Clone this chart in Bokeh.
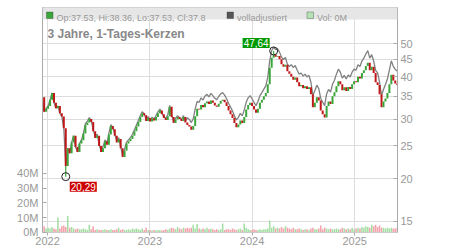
import numpy as np
import pandas as pd
from bokeh.plotting import figure
from bokeh.models import (Range1d, LinearAxis, LinearScale, FixedTicker, ColumnDataSource, Label,
                          BoxAnnotation, PrintfTickFormatter, DatetimeTickFormatter)
from bokeh.embed import file_html
from bokeh.resources import INLINE

# ---------------- data (weekly) ----------------
week_start = "2021-12-13"
first_open = 34.0
close = [
    34.8, 31.5, 32.2, 32.8, 34.2, 35.8, 33.5, 32.3, 32.8, 31.2,
    30.5, 28.2, 21.8, 24.6, 23.8, 25.6, 26.8, 24.8, 24.0, 25.4,
    26.0, 27.2, 28.8, 29.3, 30.0, 29.4, 27.6, 26.4, 26.8, 25.0,
    24.0, 24.6, 25.8, 25.2, 27.0, 28.6, 28.0, 26.8, 25.6, 26.2,
    24.6, 23.2, 24.2, 25.4, 25.8, 26.2, 26.8, 27.6, 28.5, 29.4,
    30.4, 31.2, 30.8, 29.6, 30.2, 29.5, 30.1, 29.7, 30.4, 31.2,
    31.8, 31.0, 30.2, 29.8, 30.6, 32.6, 30.4, 29.2, 29.9, 30.4,
    30.0, 29.6, 30.4, 29.3, 28.8, 28.5, 27.9, 28.6, 30.6, 32.2,
    32.0, 33.0, 32.5, 33.4, 33.8, 33.2, 34.0, 33.5, 32.9, 32.6,
    33.3, 33.9, 34.2, 33.6, 32.8, 31.8, 31.0, 30.2, 29.2, 28.4,
    28.9, 29.7, 29.2, 30.4, 32.0, 33.0, 33.5, 32.8, 32.0, 31.3,
    32.2, 33.5, 34.2, 35.0, 35.8, 38.0, 42.5, 45.5, 46.5, 45.8,
    46.0, 45.0, 43.5, 42.8, 43.4, 41.5, 40.8, 40.0, 39.2, 39.8,
    38.5, 37.5, 37.8, 37.0, 37.5, 36.8, 37.2, 35.5, 32.5, 33.5,
    34.8, 34.0, 31.8, 31.0, 30.3, 32.8, 33.8, 33.2, 35.0, 36.0,
    37.5, 38.8, 38.0, 36.5, 37.2, 36.3, 37.3, 36.8, 38.0, 38.8,
    38.5, 40.0, 39.5, 41.0, 41.8, 43.0, 44.0, 41.8, 42.8, 41.0,
    38.5, 37.8, 35.5, 32.5, 33.8, 34.5, 35.8, 38.0, 40.5, 39.0,
    38.2, 37.8,
]
volume_m = [
    7, 4, 2.5, 3, 2.5, 3.5, 2.5, 2, 10, 2.5,
    4, 4.5, 3.5, 11, 3, 3.5, 2.5, 2, 2.5, 2,
    2, 2.5, 2, 1.5, 5, 2, 4, 1.5, 2, 1.5,
    1.5, 1.5, 2, 1.5, 1.5, 2, 1.5, 1.5, 2, 3,
    1.5, 2, 1.5, 1.5, 2, 1.5, 2.5, 2, 2.5, 2,
    1.5, 2.5, 1.5, 3, 1.5, 1.5, 1.2, 1.5, 1.2, 1.5,
    1.5, 1.2, 1.5, 2, 1.5, 2.5, 3, 2.5, 2, 3.5,
    2.5, 2, 3, 2.5, 3, 2.5, 3, 5, 2.5, 5.5,
    2.5, 2, 2.5, 2, 3, 2, 2.5, 2, 1.5, 2,
    1.5, 2, 6, 1.5, 2, 2, 1.5, 2.5, 2, 1.5,
    2, 2.5, 1.5, 6, 3, 2, 1.5, 1.5, 2, 1.5,
    1.5, 2, 1.5, 2, 2, 2.5, 8, 3, 4, 2.5,
    3, 2.5, 3.5, 2.5, 4, 3, 2.5, 2, 3, 2,
    2, 2.5, 2, 1.5, 2, 2, 1.5, 2.5, 3, 2,
    2, 2.5, 4.5, 2, 3, 2.5, 2, 2.5, 2, 2,
    2.5, 2, 2, 3, 2.5, 2, 2.5, 2, 3, 2,
    2.5, 3, 2.5, 3.5, 3, 4, 3.5, 3, 5, 4,
    5, 3.5, 4.5, 3, 3, 2.5, 3, 2.5, 3, 2.5,
    2.5, 3,
]
# dividend adjustment ("volladjustiert")
div_dates = ["2022-05-15", "2023-05-15", "2024-05-15", "2025-04-15"]
adj_factor = [1.01, 1.05, 1.085, 1.10]

year_ticks = ["2022-01-01", "2023-01-01", "2024-01-01", "2025-01-01"]
price_ticks = [15, 20, 25, 30, 35, 40, 45, 50]
vol_ticks = [0, 10, 20, 30, 40]

low_date, low_value, low_text = "2022-03-07", 20.29, "20,29"
high_date, high_value, high_text = "2024-03-18", 47.64, "47,64"

title_text = "3 Jahre, 1-Tages-Kerzen"
legend_ohlc = "Op:37.53, Hi:38.36, Lo:37.53, Cl:37.8"
legend_adj = "volladjustiert"
legend_vol = "Vol: 0M"

# ---------------- derived ----------------
n = min(len(close), len(volume_m))
close_a = np.array(close[:n], dtype=float)
dates = pd.date_range(week_start, periods=n, freq="7D")
open_a = np.concatenate([[first_open], close_a[:-1]])
up = close_a >= open_a
fac = np.ones(n)
for d, f in zip(div_dates, adj_factor):
    fac[dates >= pd.Timestamp(d)] = f
adj = close_a * fac

GREEN, RED = "#3aa63a", "#c01818"
VGREEN, VRED = "#a4dea4", "#f2a2aa"

src = ColumnDataSource(dict(
    x=dates, o=open_a, c=close_a, adj=adj, vol=np.array(volume_m[:n], dtype=float),
    col=[GREEN if u else RED for u in up],
    vcol=[VGREEN if u else VRED for u in up],
))

# ---------------- figure ----------------
x_start, x_end = pd.Timestamp("2021-12-14"), pd.Timestamp("2025-06-03")
y_lo, y_hi = 13.89, 63.97
FL, FT, FW, FH = 42, 7, 355, 225

p = figure(width=450, height=250, x_axis_type="datetime", y_axis_type="log",
           x_range=Range1d(x_start, x_end), y_range=Range1d(y_lo, y_hi),
           y_axis_location="right", toolbar_location=None, output_backend="svg",
           min_border_left=FL, min_border_right=450 - FL - FW,
           min_border_top=FT, min_border_bottom=250 - FT - FH)
p.extra_y_ranges = {"vol": Range1d(-0.2, 152.9)}
p.extra_y_scales = {"vol": LinearScale()}
p.outline_line_color = "#cccccc"
p.background_fill_color = "white"
p.border_fill_color = "white"

xs_ms = x_start.value / 1e6
xe_ms = x_end.value / 1e6
ly0, ly1 = np.log(y_lo), np.log(y_hi)


def dx(px):
    return xs_ms + (px - FL) / FW * (xe_ms - xs_ms)


def dy(py):
    return float(np.exp(ly1 - (py - FT) / FH * (ly1 - ly0)))


def to_px(date, price):
    ms = pd.Timestamp(date).value / 1e6
    return (FL + (ms - xs_ms) / (xe_ms - xs_ms) * FW,
            FT + (ly1 - np.log(price)) / (ly1 - ly0) * FH)


year_ms = [pd.Timestamp(t).value / 1e6 for t in year_ticks]

# axes
LBL = "#999999"
ax = p.xaxis[0]
ax.ticker = FixedTicker(ticks=year_ms)
ax.formatter = DatetimeTickFormatter(years="%Y", months="%Y", days="%Y")
ax.major_label_text_font_size = "11px"
ax.major_label_text_color = LBL
ax.major_label_text_font = "Liberation Sans"
ax.major_tick_out = 3
ax.major_tick_in = 0
ax.major_label_standoff = 1
ax.minor_tick_line_color = None
ax.major_tick_line_color = "#aaaaaa"
ax.axis_line_color = "#cccccc"

ay = p.yaxis[0]
ay.ticker = FixedTicker(ticks=price_ticks)
ay.formatter = PrintfTickFormatter(format="%d")
ay.major_label_text_font_size = "11px"
ay.major_label_text_color = LBL
ay.major_label_text_font = "Liberation Sans"
ay.major_tick_in = 4
ay.major_tick_out = 0
ay.major_label_standoff = 3
ay.minor_tick_line_color = None
ay.major_tick_line_color = "#aaaaaa"
ay.axis_line_color = "#aaaaaa"

vax = LinearAxis(y_range_name="vol", ticker=FixedTicker(ticks=vol_ticks),
                 formatter=PrintfTickFormatter(format="%dM"))
vax.major_label_text_font_size = "11px"
vax.major_label_text_color = LBL
vax.major_label_text_font = "Liberation Sans"
vax.major_tick_in = 4
vax.major_tick_out = 0
vax.major_label_standoff = 4
vax.minor_tick_line_color = None
vax.major_tick_line_color = "#aaaaaa"
vax.axis_line_color = "#aaaaaa"
p.add_layout(vax, "left")

p.xgrid.ticker = FixedTicker(ticks=year_ms)
p.ygrid.ticker = FixedTicker(ticks=price_ticks)
p.xgrid.grid_line_color = "#dddddd"
p.ygrid.grid_line_color = "#dddddd"

# volume
p.vbar(x="x", top="vol", bottom=0, width=5.5 * 86400000, y_range_name="vol",
       fill_color="vcol", line_color=None, source=src)

# adjusted line
p.line(x="x", y="adj", line_color="#808080", line_width=1.3, source=src)

# candles
p.segment(x0="x", y0="o", x1="x", y1="c", line_color="col", line_width=2.0, source=src)

# wicks to extremes
il = int(np.argmin(np.abs((dates - pd.Timestamp(low_date)).days)))
ih = int(np.argmin(np.abs((dates - pd.Timestamp(high_date)).days)))
p.segment(x0=[dates[il]], y0=[close_a[il]], x1=[dates[il]], y1=[low_value],
          line_color=GREEN, line_width=1.2)
p.segment(x0=[dates[ih]], y0=[max(open_a[ih], close_a[ih])], x1=[dates[ih]], y1=[high_value],
          line_color=GREEN, line_width=1.2)
p.scatter(x=[dates[il], dates[ih]], y=[low_value, high_value], marker="circle", size=8,
          fill_color=None, line_color="#222222", line_width=1)

# header band
p.add_layout(BoxAnnotation(bottom=dy(19), fill_color="#e6e6e6", fill_alpha=1.0,
                           line_color=None))

# legend squares + texts
for (l, fc, txt) in [(46, GREEN, legend_ohlc), (226.5, "#555555", legend_adj),
                     (306.5, "#b4e2b4", legend_vol)]:
    p.add_layout(BoxAnnotation(left=dx(l), right=dx(l + 6.5), bottom=dy(18), top=dy(11.5),
                               fill_color=fc, fill_alpha=1.0, line_color="#222222",
                               line_width=1))
    p.add_layout(Label(x=dx(l + 10), y=dy(17.5), text=txt, text_font="Liberation Sans",
                       text_font_size="9px", text_color="#999999",
                       text_baseline="alphabetic"))

# title
p.add_layout(Label(x=dx(47), y=dy(33), text=title_text, text_font="Liberation Sans",
                   text_font_size="12px", text_font_style="bold", text_color="#888888",
                   text_baseline="alphabetic"))

# extreme labels
hx, hy = to_px(dates[ih], high_value)
p.add_layout(Label(x=dx(hx - 4), y=dy(hy - 3), text=high_text, text_font="Liberation Sans",
                   text_font_size="10px", text_color="white", text_align="right",
                   text_baseline="bottom", background_fill_color="#009900",
                   background_fill_alpha=1.0, padding=1))
lx, ly = to_px(dates[il], low_value)
p.add_layout(Label(x=dx(lx + 4), y=dy(ly + 5), text=low_text, text_font="Liberation Sans",
                   text_font_size="10px", text_color="white", text_align="left",
                   text_baseline="top", background_fill_color="#cc0000",
                   background_fill_alpha=1.0, padding=1))

open("out.html", "w").write(file_html(p, INLINE))
